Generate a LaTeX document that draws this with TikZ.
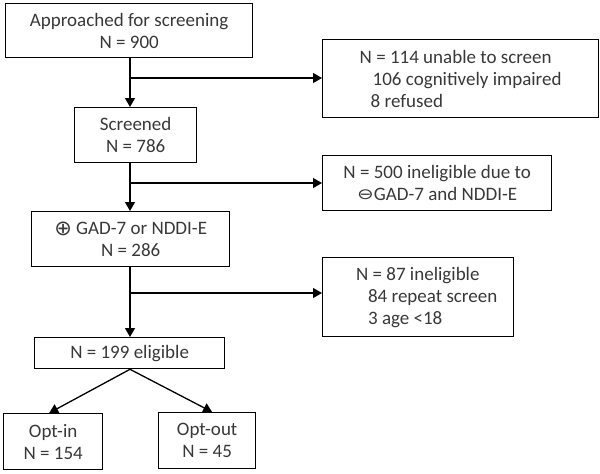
\documentclass[tikz,border=0pt]{standalone}
\usepackage{fontspec}
\setmainfont{Carlito}
\newfontfamily\symfont{DejaVu Sans}
\usetikzlibrary{arrows.meta}
\begin{document}
\begin{tikzpicture}[x=1pt,y=-1pt,
  box/.style={draw=black, line width=1.3pt, anchor=north west, inner sep=0pt, align=center, text=black!78, font=\fontsize{19}{22}\selectfont},
  arr/.style={line width=1.3pt, -{Triangle[length=9pt,width=10pt]}}]
\useasboundingbox (0,0) rectangle (600,474);
\node[box, minimum width=247pt, minimum height=54pt] (a) at (5,3) {Approached for screening\\N = 900};
\node[box, minimum width=276pt, minimum height=78pt, align=left] (n114) at (322,39) {N = 114 unable to screen\\\hspace*{13pt}106 cognitively impaired\\\hspace*{11pt}8 refused};
\node[box, minimum width=122pt, minimum height=55pt] (s) at (74,107) {Screened\\N = 786};
\node[box, minimum width=229pt, minimum height=55pt] (n500) at (322,155) {N = 500 ineligible due to\\\raisebox{1pt}{\scalebox{1.05}[0.8]{\symfont\fontsize{19}{19}\selectfont ⊖}}GAD-7 and NDDI-E};
\node[box, minimum width=198pt, minimum height=55pt] (g) at (31,211) {\raisebox{-1pt}{\symfont\fontsize{21}{21}\selectfont ⊕} GAD-7 or NDDI-E\\N = 286};
\node[box, minimum width=191pt, minimum height=79pt, align=left] (n87) at (322,257) {\hspace*{17pt}N = 87 ineligible\\\hspace*{29pt}84 repeat screen\\\hspace*{29pt}3 age <18};
\node[box, minimum width=190pt, minimum height=31pt] (e) at (34,337) {N = 199 eligible};
\node[box, minimum width=99pt, minimum height=56pt] (in) at (3,413) {Opt-in\\N = 154};
\node[box, minimum width=97pt, minimum height=56pt] (out) at (158,412) {Opt-out\\N = 45};
\coordinate (t1) at (130,78);
\coordinate (t2) at (130,183);
\coordinate (t3) at (130,293);
\draw[arr] (a.south -| t1) -- (s.north -| t1);
\draw[arr] (t1) -- (n114.west |- t1);
\draw[arr] (s.south -| t2) -- (g.north -| t2);
\draw[arr] (t2) -- (n500.west |- t2);
\draw[arr] (g.south -| t3) -- (e.north -| t3);
\draw[arr] (t3) -- (n87.west |- t3);
\draw[arr] (e.south -| t3) -- ([xshift=-4pt]in.north);
\draw[arr] (e.south -| t3) -- ([xshift=5pt]out.north);
\end{tikzpicture}
\end{document}
